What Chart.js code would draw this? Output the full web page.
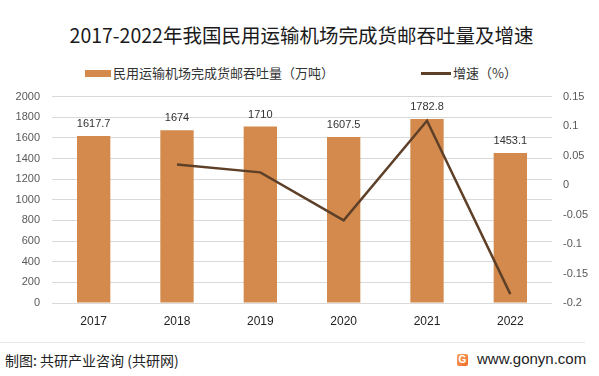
<!DOCTYPE html>
<html><head><meta charset="utf-8">
<script src="https://cdn.jsdelivr.net/npm/chart.js@4"></script>
<style>
html,body{margin:0;padding:0;background:#fff;width:599px;height:376px;overflow:hidden;font-family:"Noto Sans CJK SC","Noto Sans",sans-serif;}
#title{position:absolute;left:0;top:22px;width:603px;text-align:center;font-size:19.5px;line-height:26px;color:#1a1a1a;}
.leg{position:absolute;top:65px;font-size:13px;line-height:16px;color:#333;display:flex;align-items:center;}
.sw1{width:26px;height:7px;background:#D38A4C;margin-right:2px;}
.sw2{width:30px;height:3px;background:#5E4029;margin-right:2px;}
#wrap{position:absolute;left:0;top:78px;width:599px;height:257px;}
#divider{position:absolute;left:0;top:342px;width:585px;height:1px;background:#e6e6e6;}
#foot{position:absolute;left:5px;top:351px;font-size:14px;line-height:18px;color:#222;}
#site{position:absolute;left:477px;top:350px;font-size:15px;line-height:18px;color:#222;font-family:"Liberation Sans",Arial,sans-serif;}
#logo{position:absolute;left:457px;top:354px;width:11px;height:12px;border-radius:2px;background:linear-gradient(135deg,#f7a35c,#f06a2a);color:#fff;font-size:10px;font-weight:bold;line-height:12px;text-align:center;font-family:"Liberation Sans",sans-serif;}
</style></head>
<body>
<div id="title">2017-2022年我国民用运输机场完成货邮吞吐量及增速</div>
<div class="leg" style="left:85px;"><div class="sw1"></div>民用运输机场完成货邮吞吐量（万吨）</div>
<div class="leg" style="left:421px;"><div class="sw2"></div>增速（%）</div>
<div id="wrap"><canvas id="c" width="599" height="257"></canvas></div>
<div id="divider"></div>
<div id="foot">制图: 共研产业咨询 (共研网)</div>
<div id="logo">G</div>
<div id="site">www.gonyn.com</div>
<script>
const categories = ["2017","2018","2019","2020","2021","2022"];
const throughput = [1617.7, 1674, 1710, 1607.5, 1782.8, 1453.1];
const growth = [null, 0.0348, 0.0215, -0.0599, 0.109, -0.185];
const leftTicks = [0,200,400,600,800,1000,1200,1400,1600,1800,2000];
const rightTicks = [-0.2,-0.15,-0.1,-0.05,0,0.05,0.1,0.15];

const labelPlugin = {
  id:'barLabels',
  afterDatasetsDraw(chart){
    const ctx = chart.ctx;
    const meta = chart.getDatasetMeta(1);
    ctx.save();
    ctx.font = '11px "Liberation Sans","Noto Sans",sans-serif';
    ctx.fillStyle = '#333';
    ctx.textAlign = 'center';
    ctx.textBaseline = 'middle';
    meta.data.forEach((el,i)=>{
      ctx.fillText(String(throughput[i]), el.x, el.y - 12);
    });
    ctx.restore();
  }
};

new Chart(document.getElementById('c'), {
  data:{
    labels: categories,
    datasets:[
      {type:'line', label:'增速（%）', data: growth, yAxisID:'y1', borderColor:'#5E4029', backgroundColor:'#5E4029', borderWidth:2.5, pointRadius:0, tension:0, order:0},
      {type:'bar', label:'民用运输机场完成货邮吞吐量（万吨）', data: throughput, yAxisID:'y', backgroundColor:'#D38A4C', barPercentage:0.4, categoryPercentage:1, order:1}
    ]
  },
  options:{
    responsive:false, animation:false,
    layout:{padding:{top:0,left:0,right:0,bottom:0}},
    plugins:{legend:{display:false}, tooltip:{enabled:false}},
    scales:{
      x:{
        grid:{display:false}, border:{display:false},
        ticks:{color:'#222', font:{size:12, family:'"Liberation Sans","Noto Sans",sans-serif'}, padding:3},
        afterFit(s){ s.height = 32; }
      },
      y:{
        position:'left', min:0, max:2000,
        afterBuildTicks(s){ s.ticks = leftTicks.map(v=>({value:v})); },
        grid:{color:'#d9d9d9', drawTicks:false}, border:{display:false},
        ticks:{color:'#595959', font:{size:11, family:'"Liberation Sans","Noto Sans",sans-serif'}, padding:12,
          callback:(v)=>String(v)},
        afterFit(s){ s.width = 52; }
      },
      y1:{
        position:'right', min:-0.2, max:0.15,
        afterBuildTicks(s){ s.ticks = rightTicks.map(v=>({value:v})); },
        grid:{display:false, drawTicks:false}, border:{display:false},
        ticks:{color:'#595959', font:{size:11, family:'"Liberation Sans","Noto Sans",sans-serif'}, padding:11,
          callback:(v)=>String(parseFloat(Number(v).toFixed(2)))},
        afterFit(s){ s.width = 47; }
      }
    }
  },
  plugins:[labelPlugin]
});
</script>
</body></html>
